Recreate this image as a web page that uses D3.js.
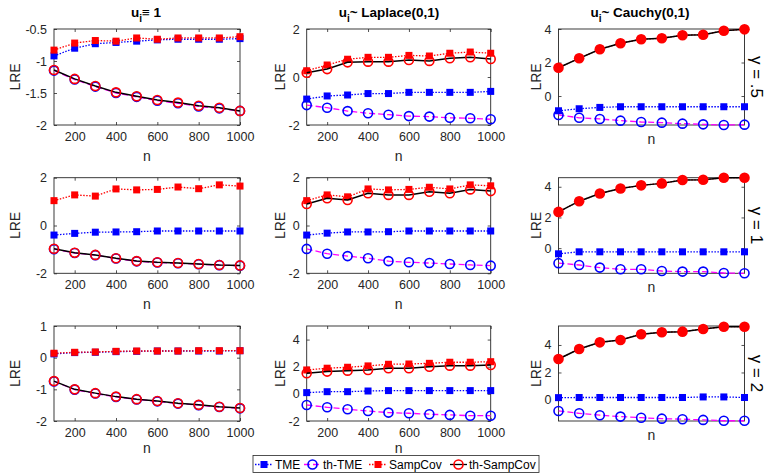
<!DOCTYPE html>
<html lang="en">
<head>
<meta charset="UTF-8">
<title>LRE vs n</title>
<script src="https://d3js.org/d3.v7.min.js"></script>
<style>
  body { margin: 0; padding: 0; background: #fff; }
  svg { font-family: 'Liberation Sans', Arial, sans-serif; }
</style>
</head>
<body>
<svg id="chart" width="769" height="474"></svg>
<script>
// sample sizes
const nValues = [100, 200, 300, 400, 500, 600, 700, 800, 900, 1000];

// column titles / row labels
const colTitles = [["u", "i", "\u2261 1"], ["u", "i", "~ Laplace(0,1)"], ["u", "i", "~ Cauchy(0,1)"]];
const rowLabels = ["\u03b3 = .5", "\u03b3 = 1", "\u03b3 = 2"];
const seriesNames = ["TME", "th-TME", "SampCov", "th-SampCov"];

// y axis ranges and ticks, per row, per column
const yDomains = [
  [[-2, -0.5], [-2, 2], [-1.73, 4]],
  [[-2, 2], [-2, 2], [-1.64, 4.59]],
  [[-2, 1], [-2, 5], [-1.53, 5.38]]
];
const yTicks = [
  [[-2, -1.5, -1, -0.5], [-2, 0, 2], [0, 2, 4]],
  [[-2, 0, 2], [-2, 0, 2], [0, 2, 4]],
  [[-2, -1, 0, 1], [-2, 0, 2, 4], [0, 2, 4]]
];
const xTicks = [200, 400, 600, 800, 1000];

// gamma = .5
const tmeG05 = [
  [-0.92, -0.80, -0.73, -0.71, -0.69, -0.67, -0.66, -0.66, -0.66, -0.65],
  [-0.92, -0.79, -0.75, -0.69, -0.69, -0.64, -0.64, -0.64, -0.64, -0.60],
  [-0.88, -0.76, -0.68, -0.64, -0.64, -0.64, -0.64, -0.64, -0.64, -0.64]
];
const thTmeG05 = [
  [-1.15, -1.29, -1.40, -1.50, -1.56, -1.62, -1.66, -1.71, -1.74, -1.78],
  [-1.17, -1.28, -1.42, -1.51, -1.57, -1.63, -1.65, -1.70, -1.72, -1.76],
  [-1.13, -1.30, -1.37, -1.47, -1.55, -1.59, -1.65, -1.69, -1.73, -1.71]
];
const sampG05 = [
  [-0.83, -0.72, -0.68, -0.69, -0.64, -0.66, -0.64, -0.64, -0.64, -0.62],
  [0.26, 0.50, 0.74, 0.82, 0.82, 0.90, 0.875, 0.99, 1.04, 0.99],
  [1.69, 2.25, 2.79, 3.15, 3.39, 3.45, 3.63, 3.66, 3.90, 3.98]
];
const thSampG05 = [
  [-1.14, -1.28, -1.39, -1.49, -1.55, -1.61, -1.65, -1.70, -1.73, -1.78],
  [0.18, 0.33, 0.61, 0.64, 0.64, 0.71, 0.67, 0.78, 0.82, 0.75],
  [1.69, 2.25, 2.79, 3.15, 3.39, 3.45, 3.63, 3.66, 3.90, 3.98]
];

// gamma = 1
const tmeG1 = [
  [-0.40, -0.33, -0.28, -0.27, -0.26, -0.23, -0.23, -0.23, -0.23, -0.23],
  [-0.40, -0.32, -0.27, -0.27, -0.26, -0.23, -0.23, -0.23, -0.23, -0.23],
  [-0.37, -0.24, -0.24, -0.24, -0.24, -0.24, -0.24, -0.24, -0.24, -0.24]
];
const thTmeG1 = [
  [-0.99, -1.15, -1.24, -1.38, -1.50, -1.55, -1.58, -1.62, -1.66, -1.68],
  [-0.98, -1.18, -1.28, -1.37, -1.49, -1.54, -1.57, -1.61, -1.65, -1.68],
  [-0.98, -1.10, -1.27, -1.38, -1.38, -1.49, -1.53, -1.53, -1.62, -1.64]
];
const sampG1 = [
  [1.04, 1.28, 1.23, 1.53, 1.49, 1.51, 1.61, 1.54, 1.70, 1.65],
  [1.04, 1.28, 1.20, 1.53, 1.49, 1.51, 1.60, 1.53, 1.70, 1.66],
  [2.36, 3.06, 3.56, 3.89, 4.09, 4.22, 4.44, 4.46, 4.59, 4.59]
];
const thSampG1 = [
  [-0.97, -1.14, -1.23, -1.37, -1.49, -1.54, -1.57, -1.61, -1.65, -1.67],
  [0.90, 1.14, 1.07, 1.35, 1.28, 1.28, 1.41, 1.35, 1.51, 1.44],
  [2.36, 3.06, 3.56, 3.89, 4.09, 4.22, 4.44, 4.46, 4.59, 4.59]
];

// gamma = 2
const tmeG2 = [
  [0.12, 0.16, 0.17, 0.19, 0.20, 0.21, 0.21, 0.21, 0.21, 0.22],
  [0.09, 0.16, 0.16, 0.21, 0.24, 0.24, 0.24, 0.24, 0.24, 0.24],
  [0.17, 0.18, 0.18, 0.18, 0.18, 0.18, 0.18, 0.22, 0.22, 0.18]
];
const thTmeG2 = [
  [-0.75, -1.01, -1.13, -1.24, -1.32, -1.38, -1.45, -1.50, -1.56, -1.60],
  [-0.82, -0.99, -1.13, -1.26, -1.38, -1.43, -1.50, -1.55, -1.61, -1.61],
  [-0.80, -0.97, -1.11, -1.21, -1.29, -1.36, -1.40, -1.45, -1.51, -1.51]
];
const sampG2 = [
  [0.14, 0.17, 0.18, 0.20, 0.21, 0.21, 0.21, 0.22, 0.22, 0.22],
  [1.76, 1.89, 1.96, 2.06, 2.18, 2.20, 2.25, 2.33, 2.33, 2.37],
  [2.98, 3.71, 4.19, 4.36, 4.78, 4.92, 4.97, 5.16, 5.33, 5.33]
];
const thSampG2 = [
  [-0.74, -1.00, -1.12, -1.23, -1.31, -1.37, -1.44, -1.49, -1.55, -1.59],
  [1.52, 1.64, 1.71, 1.76, 1.89, 1.89, 2.00, 2.08, 2.08, 2.13],
  [2.98, 3.71, 4.19, 4.36, 4.78, 4.92, 4.97, 5.16, 5.33, 5.33]
];

const rowsData = [
  [tmeG05, thTmeG05, sampG05, thSampG05],
  [tmeG1, thTmeG1, sampG1, thSampG1],
  [tmeG2, thTmeG2, sampG2, thSampG2]
];

// layout
const colX = [[54, 240], [306.7, 490.7], [558.5, 744.5]];
const rowY = [[29, 125], [177.7, 273.3], [326, 421]];
const titleX = [146, 389, 640];
const ylabelX = [15, 280, 536];
const axisColor = "#262626";

const svg = d3.select("#chart");

// series styles: line colour, dash, marker
const styles = [
  { line: "#0000ff", dash: "1.5,1.5", marker: "square", color: "#0000ff" },
  { line: "#ff00ff", dash: "6,3", marker: "circle", color: "#0000ff" },
  { line: "#ff0000", dash: "1.5,1.5", marker: "square", color: "#ff0000" },
  { line: "#000000", dash: null, marker: "circle", color: "#ff0000" }
];

function drawMarker(g, type, x, y, color, filled) {
  if (type == "square") {
    g.append("rect")
      .attr("x", x - 3.5).attr("y", y - 3.5)
      .attr("width", 7).attr("height", 7)
      .attr("fill", color);
  } else if (filled) {
    g.append("circle")
      .attr("cx", x).attr("cy", y).attr("r", 5.3)
      .attr("fill", color);
  } else {
    g.append("circle")
      .attr("cx", x).attr("cy", y).attr("r", 4.5)
      .attr("fill", "none")
      .attr("stroke", color)
      .attr("stroke-width", 1.6);
  }
}

for (let r = 0; r < 3; r++) {
  for (let c = 0; c < 3; c++) {
    const x0 = colX[c][0], x1 = colX[c][1];
    const y0 = rowY[r][0], y1 = rowY[r][1];

    const xScale = d3.scaleLinear().domain([100, 1000]).range([x0, x1]);
    const yScale = d3.scaleLinear().domain(yDomains[r][c]).range([y1, y0]);

    const g = svg.append("g");

    // x axis
    const xAxis = d3.axisBottom(xScale).tickValues(xTicks).tickSizeInner(-3).tickSizeOuter(0).tickPadding(7)
      .tickFormat(c == 2 ? "" : d => String(d));
    if (c == 2) xAxis.tickSizeInner(0);
    g.append("g").attr("transform", "translate(0," + y1 + ")").call(xAxis);

    // top ticks
    if (c != 2) {
      g.append("g").attr("transform", "translate(0," + y0 + ")")
        .call(d3.axisTop(xScale).tickValues(xTicks).tickSizeInner(-3).tickSizeOuter(0).tickFormat(""));
    }

    // y axis
    g.append("g").attr("transform", "translate(" + x0 + ",0)")
      .call(d3.axisLeft(yScale).tickValues(yTicks[r][c]).tickSizeInner(-3).tickSizeOuter(0).tickPadding(7)
        .tickFormat(d => String(d)));
    g.append("g").attr("transform", "translate(" + x1 + ",0)")
      .call(d3.axisRight(yScale).tickValues(yTicks[r][c]).tickSizeInner(-3).tickSizeOuter(0).tickFormat(""));

    g.selectAll(".domain").remove();
    g.selectAll(".tick line").attr("stroke", axisColor).attr("stroke-width", 0.8);
    g.selectAll(".tick text").attr("fill", axisColor).style("font-size", "12.5px")
      .style("font-family", "'Liberation Sans', Arial, sans-serif");

    // box
    g.append("rect")
      .attr("x", x0).attr("y", y0)
      .attr("width", x1 - x0).attr("height", y1 - y0)
      .attr("fill", "none").attr("stroke", axisColor).attr("stroke-width", 0.9);

    // series
    const series = rowsData[r];
    for (let s = 0; s < 4; s++) {
      const vals = series[s][c];
      const pts = nValues.map((n, i) => [xScale(n), yScale(vals[i])]);
      const st = styles[s];
      g.append("path")
        .attr("d", d3.line()(pts))
        .attr("fill", "none")
        .attr("stroke", st.line)
        .attr("stroke-width", s == 3 ? 1.5 : 1.3)
        .attr("stroke-dasharray", st.dash);
      const filled = (c == 2 && s == 3);
      pts.forEach(p => drawMarker(g, st.marker, p[0], p[1], st.color, filled));
    }

    // x label
    let nY = c == 2 ? y1 + 19 : y1 + 36;
    if (r == 2 && c != 2) nY = y1 + 32;
    g.append("text")
      .attr("x", (x0 + x1) / 2)
      .attr("y", nY)
      .attr("text-anchor", "middle")
      .attr("fill", axisColor)
      .style("font-size", "14px")
      .text("n");

    // y label
    g.append("text")
      .attr("transform", "translate(" + (ylabelX[c] + 5) + "," + ((y0 + y1) / 2) + ")rotate(-90)")
      .attr("text-anchor", "middle")
      .attr("fill", axisColor)
      .style("font-size", "14px")
      .text("LRE");

    // column titles
    if (r == 0) {
      const t = g.append("text")
        .attr("x", titleX[c])
        .attr("y", 17)
        .attr("text-anchor", "middle")
        .attr("fill", "#000")
        .style("font-size", "13.5px")
        .style("font-weight", "bold");
      t.append("tspan").text(colTitles[c][0]);
      t.append("tspan").attr("dy", 5).style("font-size", "10px").text(colTitles[c][1]);
      t.append("tspan").attr("dy", -5).text(colTitles[c][2]);
    }

    // row labels
    if (c == 2) {
      g.append("text")
        .attr("transform", "translate(751," + ((y0 + y1) / 2) + ")rotate(90)")
        .attr("text-anchor", "middle")
        .attr("fill", "#000")
        .style("font-size", "17px")
        .text(rowLabels[r]);
    }
  }
}

// legend
const legend = svg.append("g");
legend.append("rect")
  .attr("x", 253).attr("y", 455.5)
  .attr("width", 286).attr("height", 17)
  .attr("fill", "#fff").attr("stroke", axisColor).attr("stroke-width", 0.8);

const legendPos = [[255, 275], [304, 323], [369, 389], [450, 469]];
seriesNames.forEach((name, i) => {
  const st = styles[i];
  const lx0 = legendPos[i][0], lx1 = legendPos[i][1];
  const ly = 464.5;
  legend.append("line")
    .attr("x1", lx0).attr("x2", lx1 - 2)
    .attr("y1", ly).attr("y2", ly)
    .attr("stroke", st.line)
    .attr("stroke-width", 1.3)
    .attr("stroke-dasharray", st.dash);
  drawMarker(legend, st.marker, (lx0 + lx1 - 2) / 2, ly, st.color, false);
  legend.append("text")
    .attr("x", lx1)
    .attr("y", ly + 4)
    .attr("fill", "#000")
    .style("font-size", "12px")
    .text(name);
});
</script>
</body>
</html>
